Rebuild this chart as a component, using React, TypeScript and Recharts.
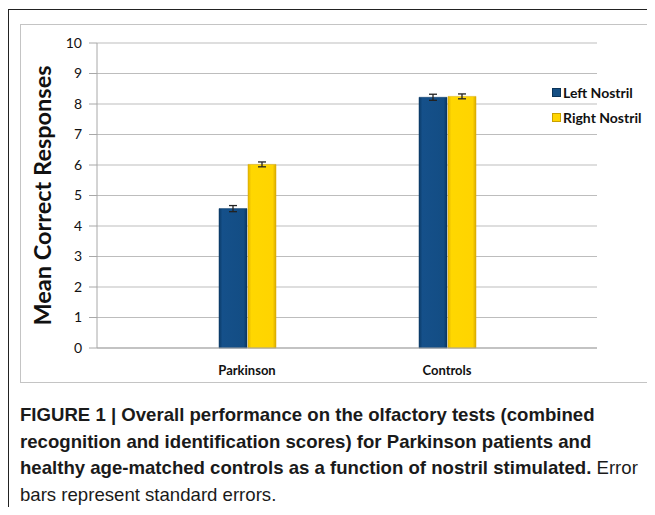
import { BarChart, Bar, XAxis, YAxis, CartesianGrid, ErrorBar, Legend, Label } from 'recharts'

const groups = ['Parkinson', 'Controls']
const leftNostril = [4.57, 8.22]
const rightNostril = [6.02, 8.25]
const leftErr = [0.1, 0.1]
const rightErr = [0.08, 0.08]
const yTicks = [0, 1, 2, 3, 4, 5, 6, 7, 8, 9, 10]

const data = groups.map((g, i) => ({
  group: g,
  left: leftNostril[i],
  right: rightNostril[i],
  leftErr: leftErr[i],
  rightErr: rightErr[i],
}))

const FONT = 'Lato, "Open Sans", sans-serif'

const legendItems = [
  { label: 'Left Nostril', color: '#154f84', edge: '#0a3358' },
  { label: 'Right Nostril', color: '#ffd500', edge: '#c9a000' },
]

function ChartLegend() {
  return (
    <div style={{ fontFamily: FONT, fontWeight: 700, fontSize: 14, color: '#111', whiteSpace: 'nowrap' }}>
      {legendItems.map((it) => (
        <div key={it.label} style={{ display: 'flex', alignItems: 'center', height: 25 }}>
          <span
            style={{
              width: 7,
              height: 7,
              flexShrink: 0,
              background: it.color,
              border: `1px solid ${it.edge}`,
              marginRight: 2,
              display: 'inline-block',
            }}
          />
          {it.label}
        </div>
      ))}
    </div>
  )
}

export default function App() {
  return (
    <div
      style={{
        position: 'relative',
        width: 655,
        height: 515,
        margin: -8,
        overflow: 'hidden',
        background: '#fff',
      }}
    >
      <div
        style={{
          position: 'absolute',
          left: 8,
          top: 9,
          width: 700,
          height: 600,
          border: '1px solid #222',
        }}
      />
      <div
        style={{
          position: 'absolute',
          left: 20,
          top: 24,
          width: 627,
          height: 357,
          border: '1px solid #c4c4c4',
        }}
      >
        <BarChart
          width={627}
          height={357}
          data={data}
          margin={{ top: 18, right: 50, bottom: 4, left: 0 }}
          barSize={28}
          barGap={1}
        >
          <defs>
            <linearGradient id="gBlue" x1="0" y1="0" x2="1" y2="0">
              <stop offset="0%" stopColor="#0b3a66" />
              <stop offset="12%" stopColor="#15508a" />
              <stop offset="88%" stopColor="#134d84" />
              <stop offset="100%" stopColor="#0a3560" />
            </linearGradient>
            <linearGradient id="gYellow" x1="0" y1="0" x2="1" y2="0">
              <stop offset="0%" stopColor="#e3b500" />
              <stop offset="12%" stopColor="#ffd700" />
              <stop offset="88%" stopColor="#ffd400" />
              <stop offset="100%" stopColor="#d8aa00" />
            </linearGradient>
          </defs>
          <CartesianGrid vertical={false} stroke="#bdbdbd" strokeWidth={1.2} />
          <XAxis
            dataKey="group"
            height={30}
            stroke="#a8a8a8"
            tickLine={false}
            padding={{ left: 50, right: 50 }}
            tick={{ fill: '#111', fontFamily: FONT, fontWeight: 700, fontSize: 13 }}
            tickMargin={12}
          />
          <YAxis
            domain={[0, 10]}
            ticks={yTicks}
            width={76}
            stroke="#a8a8a8"
            tickSize={8}
            tickMargin={7}
            tick={{ fill: '#111', fontFamily: FONT, fontSize: 14 }}
          >
            <Label
              value="Mean Correct Responses"
              angle={-90}
              position="center"
              dx={-16}
              style={{ fill: '#111', fontFamily: FONT, fontWeight: 700, fontSize: 23.5, textAnchor: 'middle' }}
            />
          </YAxis>
          <Legend
            layout="vertical"
            verticalAlign="top"
            align="right"
            content={() => <ChartLegend />}
            wrapperStyle={{ position: 'absolute', left: 531, top: 55, width: 1, height: 1 }}
          />
          <Bar dataKey="left" name="Left Nostril" fill="url(#gBlue)" stroke="#0b3a66" strokeWidth={0.5} isAnimationActive={false}>
            <ErrorBar dataKey="leftErr" width={4} stroke="#222" strokeWidth={1.3} />
          </Bar>
          <Bar dataKey="right" name="Right Nostril" fill="url(#gYellow)" stroke="#d8aa00" strokeWidth={0.5} isAnimationActive={false}>
            <ErrorBar dataKey="rightErr" width={4} stroke="#222" strokeWidth={1.3} />
          </Bar>
        </BarChart>
      </div>
      <div
        style={{
          position: 'absolute',
          left: 20,
          top: 402,
          width: 640,
          whiteSpace: 'nowrap',
          fontFamily: '"Liberation Sans", Arial, sans-serif',
          fontSize: 18.6,
          lineHeight: '26.7px',
          color: '#1a1a1a',
        }}
      >
        <b>
          FIGURE 1 | Overall performance on the olfactory tests (combined
          <br />
          recognition and identification scores) for Parkinson patients and
          <br />
          healthy age-matched controls as a function of nostril stimulated.
        </b>{' '}
        Error
        <br />
        bars represent standard errors.
      </div>
    </div>
  )
}
